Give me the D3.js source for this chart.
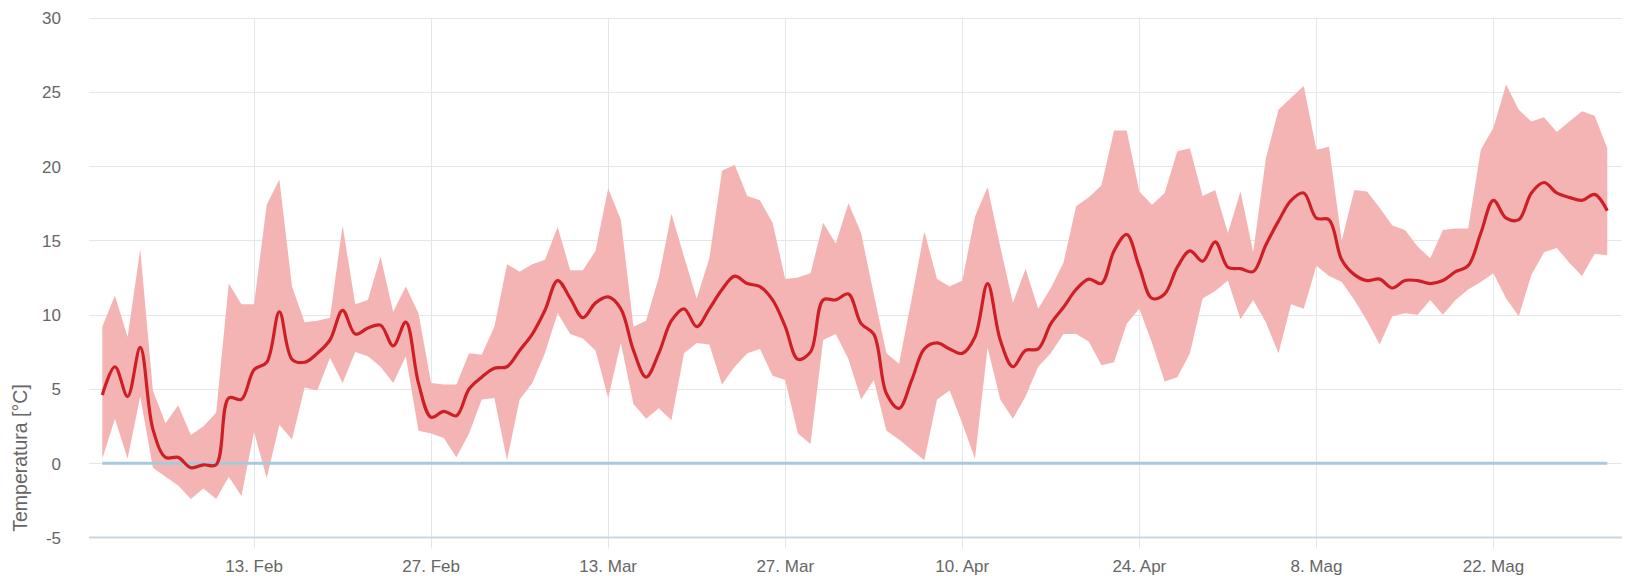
<!DOCTYPE html>
<html>
<head>
<meta charset="utf-8">
<script src="https://cdn.jsdelivr.net/npm/d3@7"></script>
<style>
  body { margin: 0; background: #fff; }
  svg { display: block; font-family: "Liberation Sans", Arial, sans-serif; }
</style>
</head>
<body>
<svg id="chart" width="1629" height="576"></svg>
<script>
// daily values, 1 Feb - 31 May
var startDay = "2017-02-01";

var low = [
  0.3, 3.0, 0.3, 4.5, -0.3, -0.9, -1.5, -2.4, -1.7, -2.4,
  -0.9, -2.2, 2.1, -1.0, 2.6, 1.6, 5.1, 4.9, 7.1, 5.4,
  7.5, 7.2, 6.5, 5.4, 7.2, 2.2, 2.0, 1.7, 0.4, 2.0,
  4.3, 4.4, 0.2, 4.3, 5.4, 7.4, 10.1, 8.7, 8.4, 7.6,
  4.4, 8.1, 4.0, 3.0, 3.7, 2.9, 7.4, 8.1, 8.0, 5.3,
  6.5, 7.4, 7.7, 5.9, 5.6, 2.0, 1.3, 8.3, 8.7, 7.0,
  4.3, 5.6, 2.2, 1.6, 0.9, 0.2, 4.3, 4.9, 2.7, 0.3,
  7.8, 4.3, 3.0, 4.5, 6.5, 7.4, 8.7, 8.7, 8.2, 6.6,
  6.8, 9.4, 10.4, 8.1, 5.5, 5.8, 7.4, 11.1, 11.6, 12.3,
  9.7, 11.0, 9.5, 7.4, 10.7, 10.4, 13.3, 12.6, 12.2, 11.0,
  9.6, 8.0, 9.9, 10.1, 10.0, 11.0, 10.0, 11.0, 11.7, 12.2,
  12.8, 11.1, 9.9, 12.7, 14.2, 14.5, 13.5, 12.6, 14.1, 14.0
];

var high = [
  9.2, 11.3, 8.5, 14.4, 4.9, 2.7, 3.9, 1.9, 2.5, 3.4,
  12.1, 10.7, 10.7, 17.4, 19.1, 11.9, 9.5, 9.6, 9.8, 16.0,
  10.7, 11.0, 13.9, 10.2, 11.9, 10.1, 5.4, 5.3, 5.3, 7.4,
  7.3, 9.2, 13.4, 12.9, 13.4, 13.7, 15.9, 13.0, 13.0, 14.3,
  18.5, 16.4, 9.2, 9.6, 12.5, 16.8, 13.9, 11.1, 13.8, 19.7,
  20.1, 18.0, 17.7, 16.2, 12.4, 12.5, 12.8, 16.2, 14.8, 17.5,
  15.5, 11.4, 7.4, 6.7, 11.1, 15.6, 12.4, 11.9, 12.3, 16.6,
  18.6, 14.6, 10.8, 13.1, 10.4, 11.8, 13.5, 17.3, 17.9, 18.7,
  22.4, 22.4, 18.3, 17.4, 18.2, 21.0, 21.2, 18.0, 18.4, 15.5,
  18.3, 14.2, 20.5, 23.8, 24.6, 25.4, 21.1, 21.3, 15.0, 18.4,
  18.3, 17.2, 16.0, 15.7, 14.6, 13.8, 15.7, 15.8, 15.8, 21.1,
  22.6, 25.5, 23.8, 23.0, 23.3, 22.3, 23.0, 23.7, 23.4, 21.2
];

var mean = [
  4.6, 6.5, 4.5, 7.8, 2.3, 0.4, 0.4, -0.3, -0.1, -0.1,
  4.4, 4.3, 6.3, 6.8, 10.2, 7.0, 6.8, 7.4, 8.3, 10.3,
  8.7, 9.1, 9.3, 7.9, 9.5, 5.4, 3.1, 3.5, 3.2, 5.0,
  5.8, 6.4, 6.5, 7.6, 8.7, 10.3, 12.3, 11.1, 9.8, 10.8,
  11.2, 10.4, 7.6, 5.8, 7.4, 9.6, 10.4, 9.2, 10.4, 11.7,
  12.6, 12.1, 11.9, 11.0, 9.2, 7.0, 7.5, 11.0, 11.0, 11.4,
  9.4, 8.7, 4.7, 3.7, 5.6, 7.7, 8.1, 7.7, 7.4, 8.5,
  12.1, 8.3, 6.5, 7.6, 7.7, 9.4, 10.5, 11.7, 12.4, 12.1,
  14.3, 15.4, 13.2, 11.1, 11.4, 13.2, 14.3, 13.6, 14.9, 13.2,
  13.1, 12.9, 14.7, 16.3, 17.7, 18.2, 16.5, 16.4, 13.7, 12.7,
  12.3, 12.4, 11.8, 12.3, 12.3, 12.1, 12.3, 12.9, 13.3, 15.5,
  17.7, 16.5, 16.4, 18.2, 18.9, 18.2, 17.9, 17.7, 18.1, 17.0
];

var tickDays = ["2017-02-13", "2017-02-27", "2017-03-13", "2017-03-27",
                "2017-04-10", "2017-04-24", "2017-05-08", "2017-05-22"];
var tickLabels = ["13. Feb", "27. Feb", "13. Mar", "27. Mar",
                  "10. Apr", "24. Apr", "8. Mag", "22. Mag"];
var yTicks = [-5, 0, 5, 10, 15, 20, 25, 30];
var yTitle = "Temperatura [°C]";

var parse = d3.timeParse("%Y-%m-%d");
var day0 = parse(startDay);
var days = low.map(function(d, i) { return d3.timeDay.offset(day0, i); });

var data = days.map(function(d, i) {
  return { date: d, low: low[i], high: high[i], mean: mean[i] };
});

var svg = d3.select("#chart");
var plotLeft = 89, plotRight = 1622;

var x = d3.scaleTime()
  .domain([days[0], days[days.length - 1]])
  .range([102.3, 1607.3]);

var y = d3.scaleLinear()
  .domain([-5, 30])
  .range([537.6, 17.6]);

// horizontal grid
svg.append("g")
  .selectAll("line")
  .data(yTicks.filter(function(t) { return t > -5; }))
  .enter().append("line")
  .attr("x1", plotLeft)
  .attr("x2", plotRight)
  .attr("y1", function(d) { return Math.round(y(d)) + 0.5; })
  .attr("y2", function(d) { return Math.round(y(d)) + 0.5; })
  .attr("stroke", "#e6e6e6")
  .attr("stroke-width", 1);

// vertical grid + ticks
var tickG = svg.append("g");
tickG.selectAll("line")
  .data(tickDays)
  .enter().append("line")
  .attr("x1", function(d) { return Math.round(x(parse(d))) + 0.5; })
  .attr("x2", function(d) { return Math.round(x(parse(d))) + 0.5; })
  .attr("y1", y(30))
  .attr("y2", y(-5) + 11)
  .attr("stroke", "#e3e6ea")
  .attr("stroke-width", 1);

// min-max band
var area = d3.area()
  .x(function(d) { return x(d.date); })
  .y0(function(d) { return y(d.low); })
  .y1(function(d) { return y(d.high); });

svg.append("path")
  .datum(data)
  .attr("d", area)
  .attr("fill", "#f5b4b4");

// zero reference line
svg.append("line")
  .attr("x1", x(days[0]))
  .attr("x2", x(days[days.length - 1]))
  .attr("y1", y(0))
  .attr("y2", y(0))
  .attr("stroke", "#a9c9db")
  .attr("stroke-width", 3);

// mean line
var line = d3.line()
  .curve(d3.curveCatmullRom.alpha(0.5))
  .x(function(d) { return x(d.date); })
  .y(function(d) { return y(d.mean); });

svg.append("path")
  .datum(data)
  .attr("d", line)
  .attr("fill", "none")
  .attr("stroke", "#cc1f26")
  .attr("stroke-width", 3.2)
  .attr("stroke-linejoin", "round");

// x axis line
svg.append("line")
  .attr("x1", plotLeft)
  .attr("x2", plotRight)
  .attr("y1", y(-5))
  .attr("y2", y(-5))
  .attr("stroke", "#c9d6e3")
  .attr("stroke-width", 2);

// y labels
svg.append("g")
  .selectAll("text")
  .data(yTicks)
  .enter().append("text")
  .attr("x", 61)
  .attr("y", function(d) { return y(d); })
  .attr("dy", "0.38em")
  .attr("text-anchor", "end")
  .attr("fill", "#666")
  .style("font-size", "17px")
  .text(function(d) { return d; });

// x labels
svg.append("g")
  .selectAll("text")
  .data(tickDays)
  .enter().append("text")
  .attr("x", function(d) { return x(parse(d)); })
  .attr("y", 572)
  .attr("text-anchor", "middle")
  .attr("fill", "#666")
  .style("font-size", "17px")
  .text(function(d, i) { return tickLabels[i]; });

// y title
svg.append("text")
  .attr("transform", "translate(27,458) rotate(-90)")
  .attr("text-anchor", "middle")
  .attr("fill", "#666")
  .style("font-size", "19.5px")
  .text(yTitle);
</script>
</body>
</html>
